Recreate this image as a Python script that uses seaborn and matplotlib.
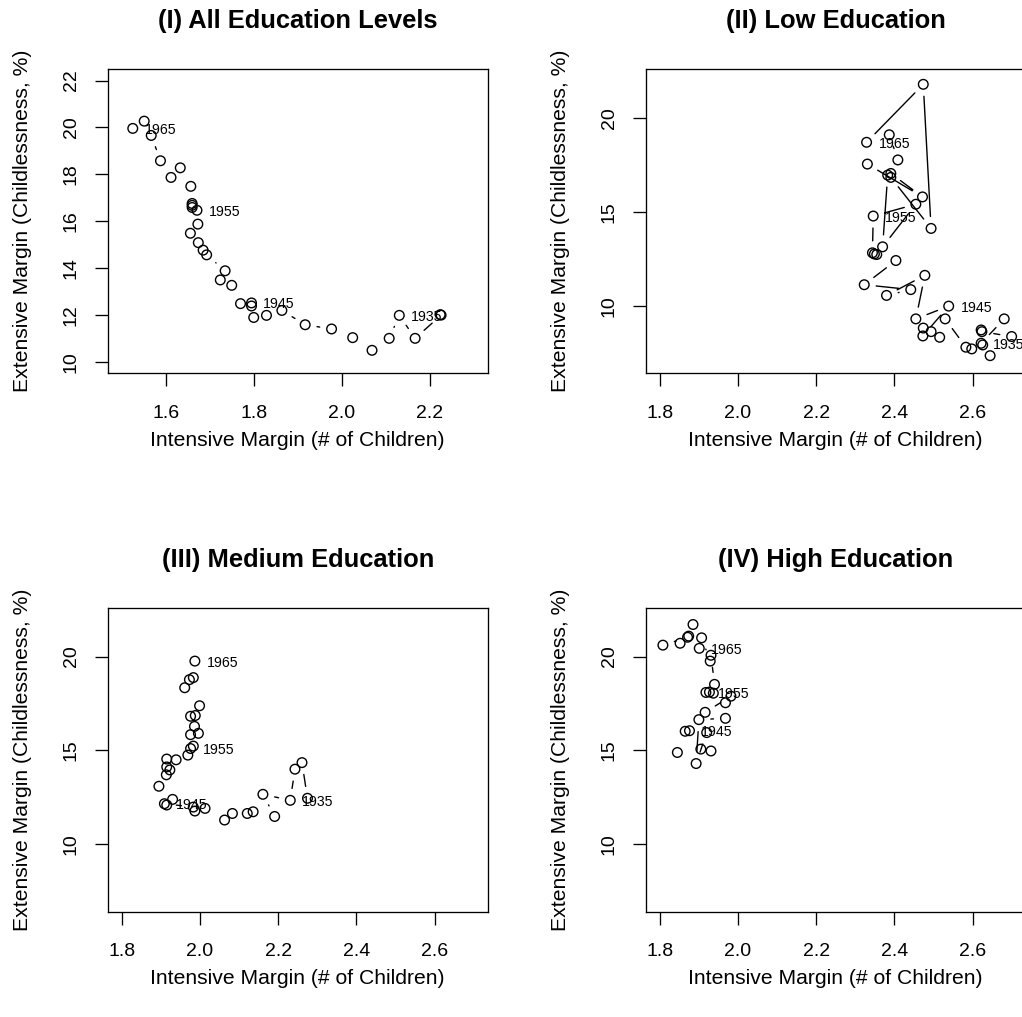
import numpy as np
import pandas as pd
import matplotlib
matplotlib.use("Agg")
import matplotlib.pyplot as plt
import seaborn as sns

# ---------------- data (cohort order, oldest -> newest) ----------------
cohort_all = list(range(1932, 1966))
tfr_all = [2.224, 2.226, 2.167, 2.131, 2.108, 2.069, 2.025, 1.977, 1.917, 1.864,
           1.829, 1.800, 1.795, 1.795, 1.770, 1.750, 1.724, 1.735, 1.693, 1.685,
           1.674, 1.656, 1.673, 1.671, 1.660, 1.660, 1.660, 1.657, 1.612, 1.633,
           1.588, 1.567, 1.551, 1.525]
childless_all = [12.02, 12.00, 11.01, 11.99, 11.01, 10.50, 11.04, 11.41, 11.59, 12.20,
                 11.99, 11.90, 12.39, 12.52, 12.49, 13.27, 13.50, 13.89, 14.57, 14.77,
                 15.09, 15.49, 15.88, 16.47, 16.59, 16.68, 16.76, 17.49, 17.87, 18.28,
                 18.58, 19.66, 20.27, 19.96]

cohort_low = list(range(1931, 1968))
tfr_low = [2.622, 2.624, 2.700, 2.681, 2.622, 2.626, 2.645, 2.598, 2.583, 2.530,
           2.516, 2.494, 2.474, 2.473, 2.539, 2.455, 2.478, 2.380, 2.442, 2.323,
           2.404, 2.349, 2.355, 2.344, 2.346, 2.455, 2.370, 2.383, 2.331, 2.472,
           2.391, 2.391, 2.494, 2.474, 2.329, 2.387, 2.409]
childless_low = [8.71, 8.62, 8.36, 9.30, 8.00, 7.91, 7.34, 7.70, 7.79, 9.30,
                 8.32, 8.62, 8.81, 8.39, 9.98, 9.30, 11.62, 10.55, 10.86, 11.12,
                 12.41, 12.76, 12.73, 12.82, 14.78, 15.41, 13.14, 16.96, 17.55, 15.80,
                 17.05, 16.84, 14.12, 21.80, 18.71, 19.11, 17.77]

cohort_med = list(range(1932, 1967))
tfr_med = [2.275, 2.261, 2.243, 2.231, 2.161, 2.191, 2.136, 2.121, 2.083, 2.063,
           2.013, 1.987, 1.983, 1.909, 1.915, 1.930, 1.895, 1.914, 1.923, 1.915,
           1.915, 1.939, 1.969, 1.976, 1.983, 1.996, 1.976, 1.986, 1.988, 1.976,
           1.999, 1.961, 1.973, 1.987, 1.983]
childless_med = [12.45, 14.35, 14.00, 12.34, 12.66, 11.48, 11.73, 11.64, 11.64, 11.29,
                 11.91, 11.77, 11.98, 12.16, 12.09, 12.39, 13.09, 13.70, 13.96, 14.12,
                 14.54, 14.50, 14.75, 15.10, 15.23, 15.91, 15.84, 16.28, 16.86, 16.82,
                 17.38, 18.34, 18.77, 19.76, 18.88]

cohort_high = list(range(1941, 1966))
tfr_high = [1.931, 1.905, 1.845, 1.865, 1.876, 1.920, 1.893, 1.900, 1.968, 1.968,
            1.916, 1.982, 1.937, 1.927, 1.918, 1.940, 1.931, 1.929, 1.907, 1.885,
            1.874, 1.871, 1.808, 1.852, 1.901]
childless_high = [14.97, 15.07, 14.89, 16.02, 16.05, 15.95, 14.30, 16.64, 16.71, 17.54,
                  17.03, 17.89, 18.05, 18.11, 18.09, 18.52, 20.07, 19.76, 21.00, 21.71,
                  21.09, 21.03, 20.61, 20.71, 20.44]

label_years = [1935, 1945, 1955, 1965]
titles = ["(I) All Education Levels", "(II) Low Education",
          "(III) Medium Education", "(IV) High Education"]
xlabel = "Intensive Margin (# of Children)"
ylabel = "Extensive Margin (Childlessness, %)"

# ---------------- style ----------------
sns.set_theme(style="white")
plt.rcParams['font.family'] = ['Liberation Sans', 'DejaVu Sans']
plt.rcParams['axes.edgecolor'] = 'black'
plt.rcParams['axes.linewidth'] = 0.95
plt.rcParams['text.color'] = 'black'
plt.rcParams['axes.labelcolor'] = 'black'
plt.rcParams['xtick.color'] = 'black'
plt.rcParams['ytick.color'] = 'black'

W, H = 1022, 1017
fig = plt.figure(figsize=(W / 100, H / 100), dpi=100)


def rect(left, top, right, bottom):
    return [left / W, (H - bottom) / H, (right - left) / W, (bottom - top) / H]


def padded(lo, hi):
    d = 0.04 * (hi - lo)
    return lo - d, hi + d


panels = [
    (rect(107.7, 69.3, 487.7, 373.3), titles[0], tfr_all, childless_all, cohort_all,
     (1.5, 2.3), (10, 22), [1.6, 1.8, 2.0, 2.2], [10, 12, 14, 16, 18, 20, 22]),
    (rect(645.7, 69.3, 1025.7, 373.3), titles[1], tfr_low, childless_low, cohort_low,
     (1.8, 2.7), (7, 22), [1.8, 2.0, 2.2, 2.4, 2.6], [10, 15, 20]),
    (rect(107.7, 607.8, 487.7, 911.8), titles[2], tfr_med, childless_med, cohort_med,
     (1.8, 2.7), (7, 22), [1.8, 2.0, 2.2, 2.4, 2.6], [10, 15, 20]),
    (rect(645.7, 607.8, 1025.7, 911.8), titles[3], tfr_high, childless_high, cohort_high,
     (1.8, 2.7), (7, 22), [1.8, 2.0, 2.2, 2.4, 2.6], [10, 15, 20]),
]

GAP = 12.0  # px gap around each point (R type="b")

for r, title, xs, ys, yrs, xl, yl, xt, yt in panels:
    ax = fig.add_axes(r)
    ax.set_xlim(*padded(*xl))
    ax.set_ylim(*padded(*yl))
    df = pd.DataFrame({"tfr": xs, "childless": ys, "cohort": yrs})

    sns.scatterplot(data=df, x="tfr", y="childless", ax=ax, marker="o", s=48,
                    edgecolor="black", linewidth=1.0, zorder=3, legend=False)
    ax.collections[-1].set_facecolor("none")
    ax.collections[-1].set_edgecolor("black")

    # connecting lines with gaps around the points
    pts = ax.transData.transform(np.column_stack([df["tfr"], df["childless"]]))
    gap = GAP * fig.dpi / 100.0
    segx, segy = [], []
    inv = ax.transData.inverted()
    for i in range(len(pts) - 1):
        p, q = pts[i], pts[i + 1]
        d = q - p
        L = np.hypot(*d)
        if L > 2 * gap:
            u = d / L
            a = inv.transform(p + u * gap)
            b = inv.transform(q - u * gap)
            segx += [a[0], b[0], np.nan]
            segy += [a[1], b[1], np.nan]
    ax.plot(segx, segy, color="black", linewidth=1.0, zorder=2)

    for yr, x, y in zip(df["cohort"], df["tfr"], df["childless"]):
        if yr in label_years:
            ax.annotate(str(yr), (x, y), xytext=(8.5, 0), textcoords="offset points",
                        ha="left", va="center_baseline", fontsize=10.2, color="black",
                        zorder=4)

    ax.set_xticks(xt)
    ax.set_yticks(yt)
    ax.set_xticklabels([f"{v:.1f}" for v in xt])
    ax.set_yticklabels([str(v) for v in yt])
    ax.tick_params(axis="both", which="both", direction="out", length=9.4, width=0.95,
                   labelsize=14, bottom=True, left=True, top=False, right=False)
    ax.tick_params(axis="x", pad=13.3)
    ax.tick_params(axis="y", pad=10.6, labelrotation=90)
    for lab in ax.get_yticklabels():
        lab.set_va("center")
    for s in ax.spines.values():
        s.set_visible(True)
        s.set_color("black")
        s.set_linewidth(0.95)
    ax.set_xlabel(xlabel, fontsize=15.2, labelpad=6.5)
    ax.set_ylabel(ylabel, fontsize=15.2, labelpad=22)
    ax.set_title(title, fontsize=18.4, fontweight="bold", pad=29.5)

fig.savefig("out.png", dpi=100, facecolor="white")
